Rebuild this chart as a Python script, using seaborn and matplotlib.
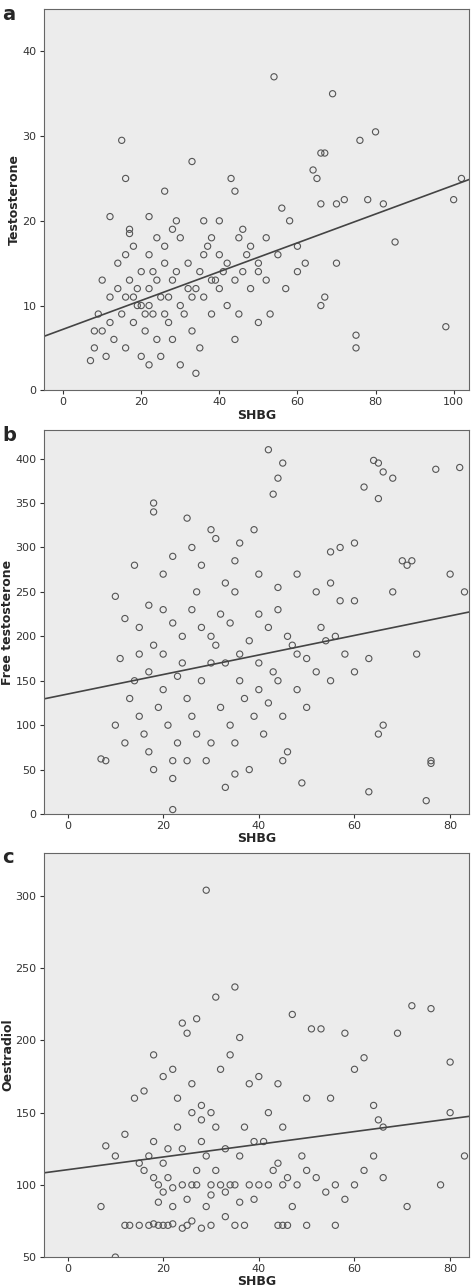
import numpy as np
import pandas as pd
import matplotlib.pyplot as plt
import seaborn as sns

# panel a: SHBG vs testosterone
shbg_a = [15,16,17,17,33,54,69,80,76,64,66,67,65,43,44,26,12,22,56,58,70,72,78,82,85,98,100,102,75,75,
          67,66,62,55,52,50,48,46,45,42,40,38,36,35,34,32,30,30,28,27,26,25,24,23,22,21,20,20,19,18,
          17,16,15,14,13,12,11,10,9,8,7,8,10,12,14,16,18,22,24,26,28,29,31,33,34,35,36,38,39,40,
          42,44,46,48,30,25,22,20,18,16,24,26,28,32,36,38,40,50,52,60,66,70,22,19,21,23,27,29,33,37,
          41,47,53,57,60,44,50,45]
testo_a = [29.5,25,19,18.5,27,37,35,30.5,29.5,26,28,28,25,25,23.5,23.5,20.5,20.5,21.5,20,22,22.5,22.5,22,17.5,7.5,22.5,25,6.5,5,
           11,10,15,16,18,15,17,19,18,15,20,18,16,14,12,15,18,10,13,8,15,11,6,9,12,7,14,4,10,8,
           13,5,9,12,6,8,4,7,9,5,3.5,7,13,11,15,16,17,16,18,17,19,20,9,7,2,5,11,9,13,12,
           10,13,14,12,3,4,3,10,11,11,13,9,6,12,20,13,16,14,13,17,22,15,10,12,9,14,11,14,11,17,
           14,16,9,12,14,6,8,9]
fit_a = (7.2, 0.17)  # intercept, slope

# panel b: SHBG vs free testosterone
shbg_b = [42,44,45,64,65,66,68,77,82,70,72,71,62,57,60,55,65,18,18,25,30,31,36,39,43,14,20,22,26,28,
          33,35,40,44,48,52,55,57,60,68,80,83,10,12,15,17,20,22,24,26,28,30,32,34,36,38,40,42,44,46,
          48,50,52,54,56,58,60,63,66,65,73,76,76,75,63,8,7,10,12,13,14,15,16,17,18,19,20,21,22,22,
          23,24,25,26,27,28,29,30,31,32,33,34,35,36,37,38,39,40,41,42,43,44,45,46,48,49,50,22,15,18,
          20,25,30,35,45,55,27,35,40,17,23,33,47,53,11]
free_b = [410,378,395,398,395,385,378,388,390,285,285,280,368,300,305,295,355,350,340,333,320,310,305,320,360,280,270,290,300,280,
          260,285,270,255,270,250,260,240,240,250,270,250,245,220,210,235,230,215,200,230,210,200,225,215,180,195,170,210,230,200,
          180,175,160,195,200,180,160,175,100,90,180,60,57,15,25,60,62,100,80,130,150,110,90,70,50,120,140,100,60,40,
          80,170,130,110,90,150,60,170,190,120,30,100,80,150,130,50,110,140,90,125,160,150,110,70,140,35,120,5,180,190,
          180,60,80,45,60,150,250,250,225,160,155,170,190,210,175]
fit_b = (135.0, 1.1)

# panel c: SHBG vs oestradiol
shbg_c = [29,35,31,27,24,25,47,51,53,72,76,69,58,62,80,83,80,78,71,60,64,65,66,55,50,44,40,38,36,34,
          32,30,28,26,22,20,18,16,14,12,10,8,7,10,12,13,15,17,18,19,20,21,22,24,25,26,28,30,33,35,
          37,44,45,46,50,56,15,16,17,18,19,20,21,22,23,24,25,26,27,28,29,30,31,32,33,34,35,36,37,38,
          39,40,41,42,43,44,45,46,47,48,49,50,52,54,56,58,60,62,64,66,26,28,31,24,20,18,23,27,29,33,
          36,39,45,42,22,21,19,30]
oestr_c = [304,237,230,215,212,205,218,208,208,224,222,205,205,188,185,120,150,100,85,180,155,145,140,160,160,170,175,170,202,190,
           180,150,155,170,180,175,190,165,160,135,120,127,85,50,72,72,72,72,73,72,72,72,73,70,72,75,70,72,78,72,
           72,72,72,72,72,72,115,110,120,105,100,95,125,85,140,100,90,100,100,130,120,100,110,100,125,100,100,120,140,100,
           90,100,130,100,110,115,100,105,85,100,120,110,105,95,100,90,100,110,120,105,150,145,140,125,115,130,160,110,85,95,
           88,130,140,150,98,105,88,93]
fit_c = (110.5, 0.44)

panels = [
    ("a", shbg_a, testo_a, fit_a, "Testosterone", (-5, 104), (0, 45), range(0, 101, 20), range(0, 41, 10)),
    ("b", shbg_b, free_b, fit_b, "Free testosterone", (-5, 84), (0, 432), range(0, 81, 20), range(0, 401, 50)),
    ("c", shbg_c, oestr_c, fit_c, "Oestradiol", (-5, 84), (50, 330), range(0, 81, 20), range(50, 301, 50)),
]

sns.set_style("ticks")
plt.rcParams['font.family'] = ['DejaVu Sans']

fig = plt.figure(figsize=(4.74, 12.88), dpi=100)
boxes = [(0.092, 0.697, 0.898, 0.296), (0.092, 0.368, 0.898, 0.298), (0.092, 0.024, 0.898, 0.314)]

for (letter, xs, ys, fit, ylab, xlim, ylim, xt, yt), box in zip(panels, boxes):
    ax = fig.add_axes(box)
    ax.set_facecolor("#ececec")
    df = pd.DataFrame({"x": xs, "y": ys})
    sns.scatterplot(data=df, x="x", y="y", ax=ax, s=20, facecolor="none",
                    edgecolor="#555555", linewidth=0.8, marker="o")
    lx = np.array(xlim, dtype=float)
    line = pd.DataFrame({"x": lx, "y": fit[0] + fit[1] * lx})
    sns.lineplot(data=line, x="x", y="y", ax=ax, color="#444444", linewidth=1.2)
    ax.set_xlim(*xlim)
    ax.set_ylim(*ylim)
    ax.set_xticks(list(xt))
    ax.set_yticks(list(yt))
    ax.tick_params(labelsize=8, colors="#333333", length=3, pad=2)
    ax.set_xlabel("SHBG", fontsize=9, fontweight="bold", labelpad=1)
    ax.set_ylabel(ylab, fontsize=9, fontweight="bold", labelpad=1)
    for s in ax.spines.values():
        s.set_color("#666666")
        s.set_linewidth(0.8)
    fig.text(0.005, box[1] + box[3] - 0.004, letter, fontsize=14, fontweight="bold", va="center")

fig.savefig("out.png", dpi=100)
